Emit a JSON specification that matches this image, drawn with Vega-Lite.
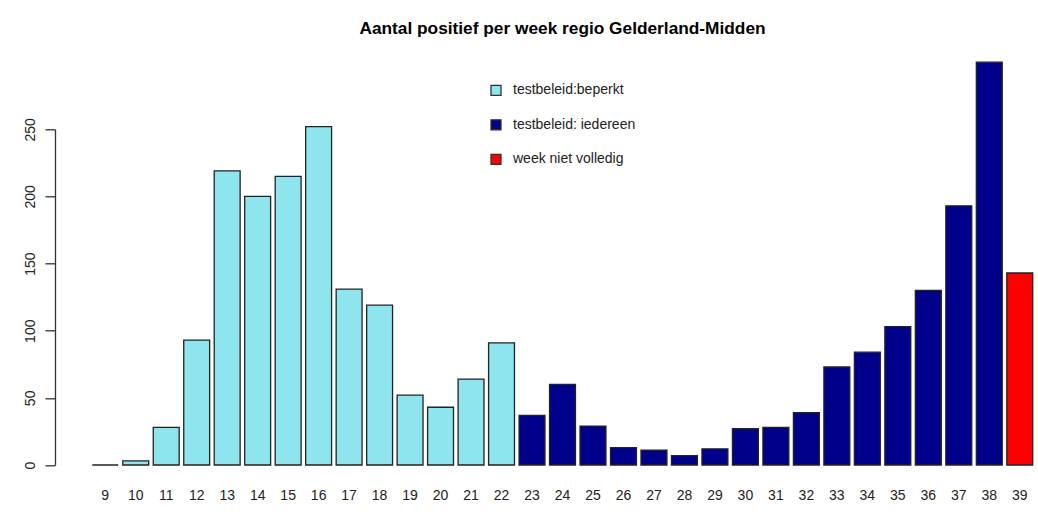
{
  "$schema": "https://vega.github.io/schema/vega-lite/v6.json",
  "width": 945,
  "height": 335.7,
  "autosize": {"type": "none"},
  "padding": {"left": 90, "top": 129.3, "right": 3, "bottom": 54},
  "background": "white",
  "title": {
    "text": "Aantal positief per week regio Gelderland-Midden",
    "font": "Liberation Sans",
    "fontSize": 17.3,
    "fontWeight": "bold",
    "color": "#000000",
    "anchor": "middle",
    "frame": "group",
    "offset": 24
  },
  "data": {
    "values": [
      {"week": 9, "n": 0, "groep": "testbeleid:beperkt"},
      {"week": 10, "n": 3, "groep": "testbeleid:beperkt"},
      {"week": 11, "n": 28, "groep": "testbeleid:beperkt"},
      {"week": 12, "n": 93, "groep": "testbeleid:beperkt"},
      {"week": 13, "n": 219, "groep": "testbeleid:beperkt"},
      {"week": 14, "n": 200, "groep": "testbeleid:beperkt"},
      {"week": 15, "n": 215, "groep": "testbeleid:beperkt"},
      {"week": 16, "n": 252, "groep": "testbeleid:beperkt"},
      {"week": 17, "n": 131, "groep": "testbeleid:beperkt"},
      {"week": 18, "n": 119, "groep": "testbeleid:beperkt"},
      {"week": 19, "n": 52, "groep": "testbeleid:beperkt"},
      {"week": 20, "n": 43, "groep": "testbeleid:beperkt"},
      {"week": 21, "n": 64, "groep": "testbeleid:beperkt"},
      {"week": 22, "n": 91, "groep": "testbeleid:beperkt"},
      {"week": 23, "n": 37, "groep": "testbeleid: iedereen"},
      {"week": 24, "n": 60, "groep": "testbeleid: iedereen"},
      {"week": 25, "n": 29, "groep": "testbeleid: iedereen"},
      {"week": 26, "n": 13, "groep": "testbeleid: iedereen"},
      {"week": 27, "n": 11, "groep": "testbeleid: iedereen"},
      {"week": 28, "n": 7, "groep": "testbeleid: iedereen"},
      {"week": 29, "n": 12, "groep": "testbeleid: iedereen"},
      {"week": 30, "n": 27, "groep": "testbeleid: iedereen"},
      {"week": 31, "n": 28, "groep": "testbeleid: iedereen"},
      {"week": 32, "n": 39, "groep": "testbeleid: iedereen"},
      {"week": 33, "n": 73, "groep": "testbeleid: iedereen"},
      {"week": 34, "n": 84, "groep": "testbeleid: iedereen"},
      {"week": 35, "n": 103, "groep": "testbeleid: iedereen"},
      {"week": 36, "n": 130, "groep": "testbeleid: iedereen"},
      {"week": 37, "n": 193, "groep": "testbeleid: iedereen"},
      {"week": 38, "n": 300, "groep": "testbeleid: iedereen"},
      {"week": 39, "n": 143, "groep": "week niet volledig"}
    ]
  },
  "mark": {"type": "bar", "stroke": "#222222", "strokeWidth": 1.3},
  "encoding": {
    "x": {
      "field": "week",
      "type": "ordinal",
      "sort": "ascending",
      "scale": {"paddingInner": 0.15, "paddingOuter": 0.075},
      "axis": {
        "title": null,
        "labelAngle": 0,
        "domain": false,
        "ticks": false,
        "labelPadding": 23,
        "labelFont": "Liberation Sans",
        "labelFontSize": 14,
        "labelColor": "#222222"
      }
    },
    "y": {
      "field": "n",
      "type": "quantitative",
      "scale": {"domain": [0, 250], "nice": false, "zero": true},
      "axis": {
        "title": null,
        "values": [0, 50, 100, 150, 200, 250],
        "offset": 35,
        "tickSize": 10,
        "labelAngle": -90,
        "labelPadding": 8,
        "grid": false,
        "domainColor": "#333333",
        "tickColor": "#333333",
        "domainWidth": 1.3,
        "tickWidth": 1.3,
        "labelFont": "Liberation Sans",
        "labelFontSize": 14,
        "labelColor": "#222222"
      }
    },
    "color": {
      "field": "groep",
      "type": "nominal",
      "scale": {
        "domain": ["testbeleid:beperkt", "testbeleid: iedereen", "week niet volledig"],
        "range": ["#8EE5EE", "#00008B", "#FF0000"]
      },
      "legend": {
        "title": null,
        "orient": "none",
        "legendX": 399,
        "legendY": -46,
        "padding": 0,
        "symbolType": "square",
        "symbolSize": 100,
        "symbolStrokeColor": "#333333",
        "symbolStrokeWidth": 1.3,
        "labelOffset": 10,
        "labelFont": "Liberation Sans",
        "labelFontSize": 14,
        "labelColor": "#222222",
        "rowPadding": 18.5
      }
    }
  },
  "config": {"view": {"stroke": null}}
}
